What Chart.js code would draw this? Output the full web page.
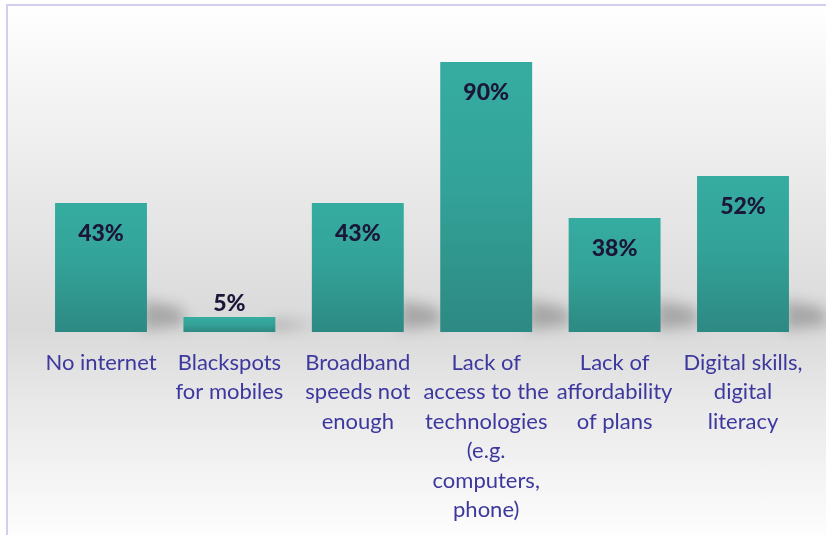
<!DOCTYPE html>
<html><head><meta charset="utf-8">
<script src="https://cdn.jsdelivr.net/npm/chart.js@4/dist/chart.umd.min.js"></script>
<style>
html,body{margin:0;padding:0;background:#fff;width:826px;height:535px;overflow:hidden}
#bg{position:absolute;left:8px;top:6px;width:818px;height:529px;
background:linear-gradient(to bottom,#ffffff 0%,#f2f2f2 20%,#d9d9d9 61%,#e6e6e6 72%,#fdfdfd 100%)}
#bt{position:absolute;left:6px;top:4px;width:820px;height:2px;background:#d2cef0}
#bl{position:absolute;left:6px;top:4px;width:2px;height:531px;background:#d2cef0}
#wrap{position:absolute;left:0;top:0;width:826px;height:535px}
</style></head><body>
<div id="bg"></div><div id="bt"></div><div id="bl"></div>
<div id="wrap"><canvas id="c" width="826" height="535"></canvas></div>
<script>
const categories = [
  ["No internet"],
  ["Blackspots","for mobiles"],
  ["Broadband","speeds not","enough"],
  ["Lack of","access to the","technologies","(e.g.","computers,","phone)"],
  ["Lack of","affordability","of plans"],
  ["Digital skills,","digital","literacy"]
];
const values = [43, 5, 43, 90, 38, 52];
const valueLabels = ["43%","5%","43%","90%","38%","52%"];

const shadowPlugin = {
  id:'shadows',
  beforeDatasetsDraw(chart){
    const ctx = chart.ctx;
    const meta = chart.getDatasetMeta(0);
    ctx.save();
    ctx.filter = 'blur(7px)';
    ctx.fillStyle = 'rgba(0,0,0,0.24)';
    meta.data.forEach(b=>{
      const r = b.x + b.width/2, bot = b.base;
      const h = Math.min(bot - b.y, 40);
      ctx.beginPath();
      ctx.moveTo(r-4, bot-2);
      ctx.lineTo(r-4, bot - h*0.8);
      ctx.lineTo(r+34, bot - h*0.6);
      ctx.lineTo(r+40, bot - 8);
      ctx.closePath();
      ctx.fill();
    });
    ctx.restore();
  }
};
const labelPlugin = {
  id:'vlabels',
  afterDatasetsDraw(chart){
    const ctx = chart.ctx;
    const meta = chart.getDatasetMeta(0);
    ctx.save();
    ctx.font = '900 23px Lato';
    ctx.fillStyle = '#1b1638';
    ctx.textAlign = 'center';
    ctx.textBaseline = 'middle';
    meta.data.forEach((b,i)=>{
      const h = b.base - b.y;
      const y = h > 50 ? b.y + 31 : b.y - 13;
      ctx.fillText(valueLabels[i], b.x, y);
    });
    ctx.restore();
  }
};

new Chart(document.getElementById('c'), {
  type:'bar',
  data:{
    labels:categories,
    datasets:[{
      data:values,
      backgroundColor(c){
        const ch = c.chart, ca = ch.chartArea;
        if(!ca || c.dataIndex===undefined) return '#32a097';
        const top = ch.scales.y.getPixelForValue(values[c.dataIndex]);
        const bot = ch.scales.y.getPixelForValue(0);
        const g = ch.ctx.createLinearGradient(0, top, 0, bot+0.01);
        g.addColorStop(0,'#36aca1');
        g.addColorStop(0.45,'#33a399');
        g.addColorStop(1,'#2d8983');
        return g;
      },
      borderWidth:0,
      barPercentage:0.716,
      categoryPercentage:1
    }]
  },
  options:{
    responsive:false,
    animation:false,
    devicePixelRatio:1,
    layout:{padding:{left:36.8,right:18.8,top:32,bottom:0}},
    plugins:{legend:{display:false},tooltip:{enabled:false}},
    scales:{
      y:{display:false,min:0,max:100},
      x:{
        grid:{display:false},
        border:{display:false},
        afterFit(s){ s.height = 203; },
        ticks:{
          color:'#3d389e',
          font:{family:'Lato',size:22,lineHeight:1.34},
          padding:8,
          maxRotation:0,
          autoSkip:false
        }
      }
    }
  },
  plugins:[shadowPlugin,labelPlugin]
});
</script>
</body></html>
